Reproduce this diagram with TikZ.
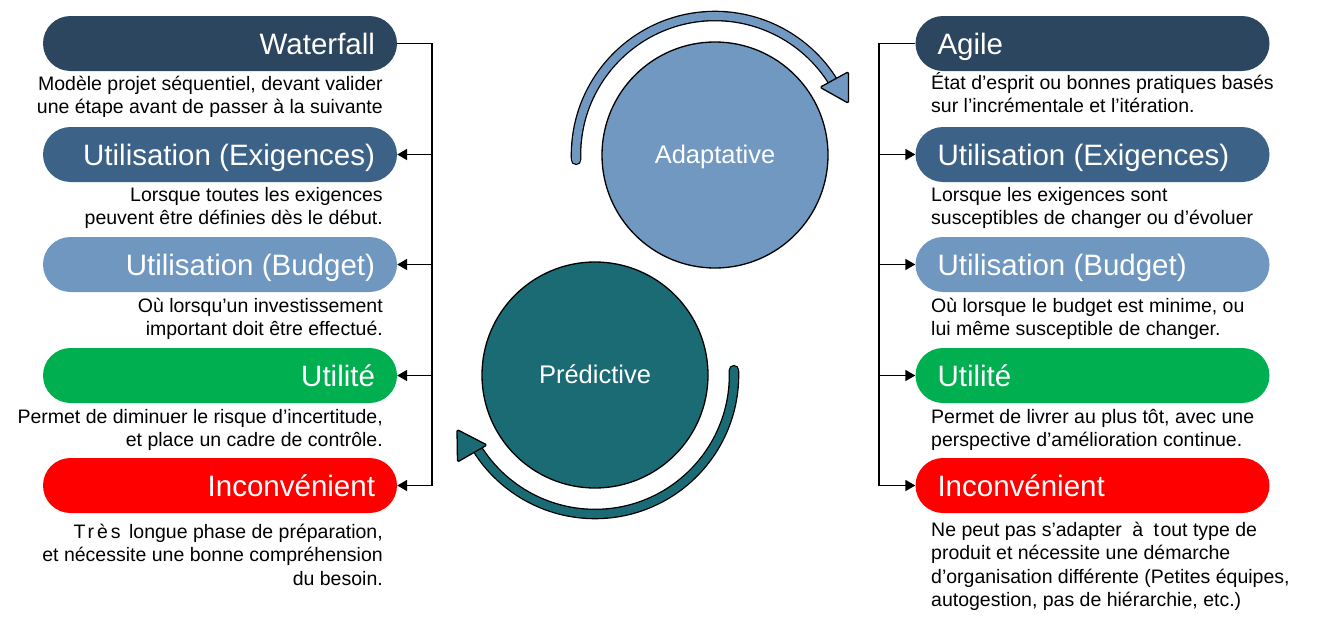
\documentclass[tikz,border=0pt]{standalone}
\usepackage{fontspec}
\setmainfont{Liberation Sans}
\usetikzlibrary{shapes.misc,arrows.meta,calc}
\definecolor{cnavy}{HTML}{2C4660}
\definecolor{cexig}{HTML}{3D6287}
\definecolor{cbudg}{HTML}{6F97BF}
\definecolor{cgreen}{HTML}{00AF50}
\definecolor{cred}{HTML}{FF0000}
\definecolor{cadapt}{HTML}{7098C0}
\definecolor{cpred}{HTML}{1B6B75}
\newcommand\pillfont{\fontsize{29.5}{34}\selectfont}
\newcommand\descfont{\fontsize{19.5}{23.5}\selectfont}
\newcommand\circfont{\fontsize{25.5}{30}\selectfont}
\tikzset{
  pill/.style={rounded rectangle, minimum width=354pt, minimum height=55pt, inner sep=0pt, draw=none},
  pilltxt/.style={text=white, font=\pillfont, inner sep=0pt},
  desc/.style={font=\descfont, inner sep=0pt, text=black},
  bigcirc/.style={circle, draw=black, line width=1.3pt, minimum size=226pt, inner sep=0pt},
  circtxt/.style={text=white, font=\circfont, inner sep=0pt},
  bus/.style={line width=1.8pt, black},
  busarrow/.style={line width=1.8pt, black, -{Triangle[length=10pt,width=11pt]}},
  ringarrow/.style={line width=1.3pt, draw=black, double distance=8pt, line cap=round},
  ringhead/.style={draw=black, line width=1.3pt, line join=round, rounded corners=1.5pt},
}
\begin{document}
\begin{tikzpicture}[x=1pt,y=-1pt]
\fill[white] (0,0) rectangle (1318,637);
% ---------- left column ----------
\node[pill, fill=cnavy] (lw) at (220,43.5) {};
\node[pill, fill=cexig] (le) at (220,154.5) {};
\node[pill, fill=cbudg] (lb) at (220,264.5) {};
\node[pill, fill=cgreen] (lu) at (220,375.5) {};
\node[pill, fill=cred] (li) at (220,485.5) {};
\node[pilltxt, anchor=base east] (lwt) at ($(lw.east)+(-22,10.5)$) {Waterfall};
\node[pilltxt, anchor=base east] (let) at ($(le.east)+(-22,10.5)$) {Utilisation (Exigences)};
\node[pilltxt, anchor=base east] (lbt) at ($(lb.east)+(-22,10.5)$) {Utilisation (Budget)};
\node[pilltxt, anchor=base east] (lut) at ($(lu.east)+(-22,10.5)$) {Utilité};
\node[pilltxt, anchor=base east] (lit) at ($(li.east)+(-22,10.5)$) {Inconvénient};
\node[desc, anchor=base east] (lwd) at (383,90) {\begin{tabular}[t]{@{}r@{}}Modèle projet séquentiel, devant valider\\une étape avant de passer à la suivante\end{tabular}};
\node[desc, anchor=base east] (led) at (383,201) {\begin{tabular}[t]{@{}r@{}}Lorsque toutes les exigences\\peuvent être définies dès le début.\end{tabular}};
\node[desc, anchor=base east] (lbd) at (383,312) {\begin{tabular}[t]{@{}r@{}}Où lorsqu’un investissement\\important doit être effectué.\end{tabular}};
\node[desc, anchor=base east] (lud) at (383,423) {\begin{tabular}[t]{@{}r@{}}Permet de diminuer le risque d’incertitude,\\et place un cadre de contrôle.\end{tabular}};
\node[desc, anchor=base east] (lid) at (383,538) {\begin{tabular}[t]{@{}r@{}}{\addfontfeature{LetterSpace=15}Très}\hspace{3pt} longue phase de préparation,\\et nécessite une bonne compréhension\\du besoin.\end{tabular}};
\coordinate (L1) at (432,43.5);
\coordinate (L2) at (432,154.5);
\coordinate (L3) at (432,264.5);
\coordinate (L4) at (432,375.5);
\coordinate (L5) at (432,485.5);
\draw[bus] (lw.east) -- (L1) -- (L5);
\draw[busarrow] (L2) -- (le.east);
\draw[busarrow] (L3) -- (lb.east);
\draw[busarrow] (L4) -- (lu.east);
\draw[busarrow] (L5) -- (li.east);
% ---------- right column ----------
\node[pill, fill=cnavy] (rw) at (1092.5,43.5) {};
\node[pill, fill=cexig] (re) at (1092.5,154.5) {};
\node[pill, fill=cbudg] (rb) at (1092.5,264.5) {};
\node[pill, fill=cgreen] (ru) at (1092.5,375.5) {};
\node[pill, fill=cred] (ri) at (1092.5,485.5) {};
\node[pilltxt, anchor=base west] (rwt) at ($(rw.west)+(22,10.5)$) {Agile};
\node[pilltxt, anchor=base west] (ret) at ($(re.west)+(22,10.5)$) {Utilisation (Exigences)};
\node[pilltxt, anchor=base west] (rbt) at ($(rb.west)+(22,10.5)$) {Utilisation (Budget)};
\node[pilltxt, anchor=base west] (rut) at ($(ru.west)+(22,10.5)$) {Utilité};
\node[pilltxt, anchor=base west] (rit) at ($(ri.west)+(22,10.5)$) {Inconvénient};
\node[desc, anchor=base west] (rwd) at (931,89) {\begin{tabular}[t]{@{}l@{}}État d’esprit ou bonnes pratiques basés\\sur l’incrémentale et l’itération.\end{tabular}};
\node[desc, anchor=base west] (red) at (931,201) {\begin{tabular}[t]{@{}l@{}}Lorsque les exigences sont\\susceptibles de changer ou d’évoluer\end{tabular}};
\node[desc, anchor=base west] (rbd) at (931,312) {\begin{tabular}[t]{@{}l@{}}Où lorsque le budget est minime, ou\\lui même susceptible de changer.\end{tabular}};
\node[desc, anchor=base west] (rud) at (931,423) {\begin{tabular}[t]{@{}l@{}}Permet de livrer au plus tôt, avec une\\perspective d’amélioration continue.\end{tabular}};
\node[desc, anchor=base west] (rid) at (931,536) {\begin{tabular}[t]{@{}l@{}}Ne peut pas s’adapter\hspace{5pt} à\hspace{5pt} t\hspace{1.5pt}out type de\\produit et nécessite une démarche\\d’organisation différente (Petites équipes,\\autogestion, pas de hiérarchie, etc.)\end{tabular}};
\coordinate (R1) at (879,43.5);
\coordinate (R2) at (879,154.5);
\coordinate (R3) at (879,264.5);
\coordinate (R4) at (879,375.5);
\coordinate (R5) at (879,485.5);
\draw[bus] (rw.west) -- (R1) -- (R5);
\draw[busarrow] (R2) -- (re.west);
\draw[busarrow] (R3) -- (rb.west);
\draw[busarrow] (R4) -- (ru.west);
\draw[busarrow] (R5) -- (ri.west);
% ---------- circles ----------
\node[bigcirc, fill=cadapt] (ca) at (715,155) {};
\node[bigcirc, fill=cpred] (cp) at (595,375) {};
\node[circtxt, anchor=base] (cat) at (715,163) {Adaptative};
\node[circtxt, anchor=base] (cpt) at (595,383) {Prédictive};
% ring arrows
\draw[ringarrow, double=cadapt] (ca.center) ++(178:139) arc[start angle=178, end angle=328, radius=139];
\coordinate (ta) at (820,87.3);
\coordinate (tb) at (848.5,71.7);
\coordinate (tc) at (848.5,103.3);
\filldraw[ringhead, fill=cadapt] (ta) -- (tb) -- (tc) -- cycle;
\draw[ringarrow, double=cpred] (cp.center) ++(-2:139) arc[start angle=-2, end angle=148, radius=139];
\coordinate (ba) at (487,445);
\coordinate (bb) at (457,429.5);
\coordinate (bc) at (457.5,462);
\filldraw[ringhead, fill=cpred] (ba) -- (bb) -- (bc) -- cycle;
\end{tikzpicture}
\end{document}
